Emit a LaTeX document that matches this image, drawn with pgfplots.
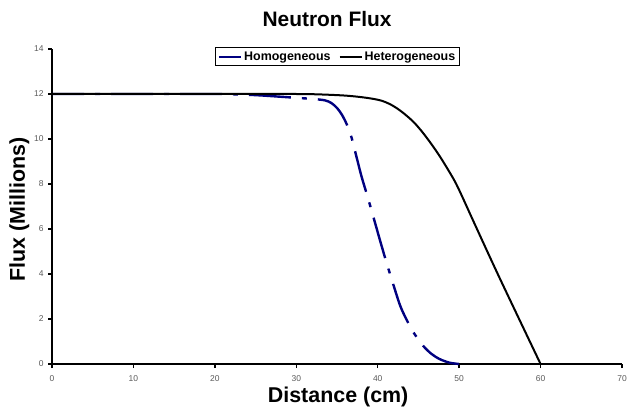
\documentclass[border=0pt]{standalone}
\usepackage{fontspec}
\setmainfont{Liberation Sans}
\usepackage{pgfplots}
\pgfplotsset{compat=1.18}
\definecolor{navyblue}{RGB}{0,0,128}
\definecolor{tickgray}{RGB}{90,90,90}
\begin{document}
\begin{tikzpicture}
\useasboundingbox (-52bp,-44bp) rectangle (577bp,364bp);
\begin{axis}[
  at={(0,0)}, anchor=south west,
  scale only axis, width=570bp, height=315bp,
  xmin=0, xmax=70, ymin=0, ymax=14,
  xtick={0,10,...,70}, ytick={0,2,...,14},
  axis x line=bottom, axis y line=left,
  axis line style={-, line width=2bp, black},
  tick align=outside, major tick length=4bp,
  every tick/.style={black, line width=1.4bp},
  /pgf/number format/assume math mode=true,
  tick label style={font=\fontsize{8.5}{10}\selectfont, text=tickgray},
  xticklabel style={yshift=-4bp},
  yticklabel style={xshift=-1bp},
  title={\bfseries Neutron Flux},
  title style={at={(axis description cs:0.4825,1)}, anchor=base, yshift=17bp, font=\fontsize{21}{24}\selectfont},
  xlabel={\bfseries Distance (cm)},
  xlabel style={at={(axis description cs:0.502,0)}, anchor=base, yshift=-38bp, font=\fontsize{21.5}{24}\selectfont},
  ylabel={\bfseries Flux (Millions)},
  ylabel style={at={(axis description cs:-0.0474,0.49)}, anchor=base, font=\fontsize{21.5}{24}\selectfont},
  legend columns=2,
  legend style={at={(axis description cs:0.5009,0.975)}, anchor=center, draw=black, line width=0.8bp,
    font=\bfseries\fontsize{12.5}{14}\selectfont, inner sep=2bp,
    /tikz/every even column/.style={column sep=6bp}},
  legend image code/.code={\draw[#1] (0bp,0bp) -- (22bp,0bp);},
  clip=false,
]
\addplot[navyblue, line width=2.4bp, smooth, tension=0.5,
  dash pattern=on 42bp off 11bp on 5bp off 11bp, dash phase=10bp] coordinates {
(0,12) (10,12) (20,12) (22,11.99) (25,11.95) (28,11.88) (30,11.83) (32,11.78)
(33.5,11.72) (34.3,11.6) (35,11.38) (35.6,11.08) (36.2,10.65) (36.8,10.05)
(37.4,9.2) (38,8.35) (38.7,7.5) (39.3,6.75) (40.2,5.6) (41,4.6) (41.6,3.9)
(42.7,2.65) (43.5,2.0) (44.4,1.4) (45.6,0.8) (46.6,0.45) (47.6,0.22) (48.8,0.06) (50,0)
};
\addlegendentry{Homogeneous}
\addplot[black, line width=2bp, smooth, tension=0.5] coordinates {
(0,12) (10,12) (20,12) (30,12) (33,11.98) (36,11.93) (38,11.86) (39.5,11.78)
(40.5,11.7) (41.5,11.55) (42.5,11.33) (43.5,11.05) (44.5,10.72) (45.5,10.3)
(46.5,9.82) (47.5,9.3) (48.5,8.72) (49.5,8.1) (50.3,7.5) (52,6.15) (55,3.8) (60,0)
};
\addlegendentry{Heterogeneous}
\end{axis}
\end{tikzpicture}
\end{document}
